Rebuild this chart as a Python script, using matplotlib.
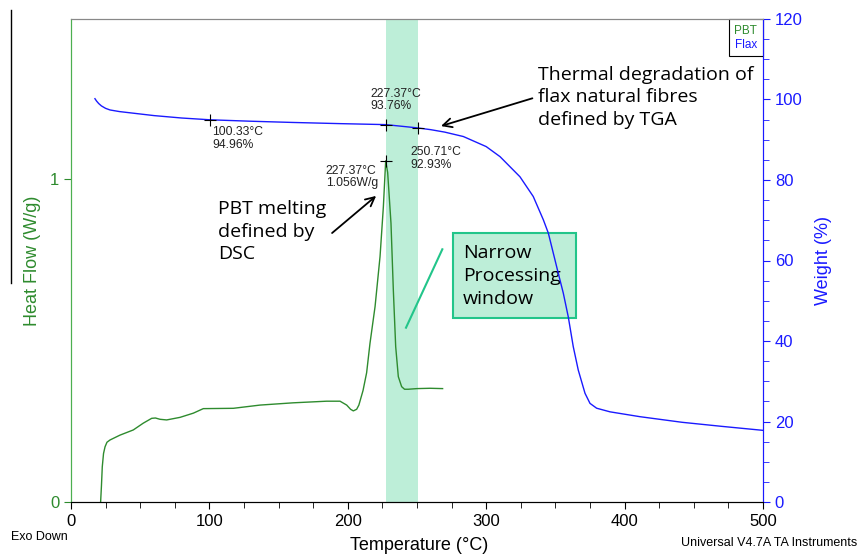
import matplotlib
matplotlib.use("Agg")
import matplotlib.pyplot as plt
from matplotlib.patches import Rectangle
from matplotlib.ticker import MultipleLocator

# DSC curve of PBT (heat flow, W/g)
temp_hf = [21.4, 22.0, 22.6, 23.5, 24.6, 26.0, 28.2, 35.4, 45.0, 52.2, 58.3, 61.0, 64.3,
           69.1, 78.8, 88.4, 95.6, 117.3, 136.6, 160.6, 184.7, 194.4, 199.2, 202.0, 204.0,
           206.4, 208.0, 211.0, 213.6, 216.0, 219.7, 223.3, 225.7, 227.37, 228.8, 231.2,
           232.9, 234.6, 236.5, 238.9, 241.0, 243.7, 250.0, 259.4, 268.5]
heat_flow = [0.0, 0.05, 0.109, 0.15, 0.171, 0.185, 0.192, 0.207, 0.223, 0.244, 0.259, 0.260,
             0.256, 0.254, 0.262, 0.275, 0.289, 0.290, 0.300, 0.307, 0.312, 0.312, 0.300,
             0.287, 0.282, 0.287, 0.300, 0.345, 0.400, 0.490, 0.605, 0.760, 0.914, 1.056,
             1.020, 0.863, 0.656, 0.481, 0.388, 0.357, 0.349, 0.349, 0.351, 0.352, 0.351]

# TGA curve of flax (weight, %)
temp_w = [17.3, 18.5, 20.0, 22.0, 25.0, 28.2, 35.0, 45.0, 60.0, 80.0, 100.33, 130.0, 160.0,
          195.0, 227.37, 250.71, 260.0, 270.0, 283.5, 300.0, 310.0, 324.4, 334.0, 341.3,
          344.9, 348.5, 352.1, 355.7, 359.3, 362.9, 366.5, 371.4, 375.0, 379.8, 389.5,
          411.0, 441.6, 470.0, 500.0]
weight = [100.2, 99.6, 99.0, 98.4, 97.8, 97.4, 97.0, 96.6, 96.0, 95.4, 94.96, 94.6, 94.3,
          94.0, 93.76, 92.93, 92.5, 91.9, 90.8, 88.3, 85.8, 80.8, 75.9, 70.1, 66.8, 61.8,
          56.8, 51.9, 46.0, 38.6, 32.8, 27.0, 24.5, 23.3, 22.4, 21.2, 19.8, 18.8, 17.8]

window = (227.37, 250.71)
mark_t = [100.33, 227.37, 250.71]
mark_w = [94.96, 93.76, 92.93]
peak_t, peak_hf = 227.37, 1.056

green = '#2e8b2e'
blue = '#1a1aff'
mint = '#bdeed8'
teal = '#22c58a'
note_font = 'Open Sans'
plt.rcParams['font.family'] = ['Liberation Sans', 'DejaVu Sans']

fig = plt.figure(figsize=(8.59, 5.56), dpi=100)
ax = fig.add_axes([71 / 859, 54 / 556, 692 / 859, 483 / 556])
ax2 = ax.twinx()

ax.axvspan(window[0], window[1], color=mint, lw=0, zorder=0)
ax.plot(temp_hf, heat_flow, color=green, lw=1.0)
ax.plot([peak_t], [peak_hf], marker='+', color='black', ms=9, mew=0.8)

ax2.plot(temp_w, weight, color=blue, lw=1.0)
ax2.plot(mark_t, mark_w, ls='none', marker='+', color='black', ms=9, mew=0.8)

ax.set_xlim(0, 500)
ax.set_ylim(0, 1.495)
ax2.set_ylim(0, 120)

ax.xaxis.set_major_locator(MultipleLocator(100))
ax.xaxis.set_minor_locator(MultipleLocator(25))
ax.set_yticks([0, 1])
ax.set_yticklabels(['0', '1'])
ax2.yaxis.set_major_locator(MultipleLocator(20))
ax2.yaxis.set_minor_locator(MultipleLocator(5))

ax.tick_params(axis='x', which='major', length=5, labelsize=12, colors='black')
ax.tick_params(axis='x', which='minor', length=4)
ax.tick_params(axis='y', length=5, labelsize=12, colors=green)
ax2.tick_params(axis='y', which='major', length=5, labelsize=12, colors=blue)
ax2.tick_params(axis='y', which='minor', length=4, colors=blue)

for a in (ax, ax2):
    a.spines['top'].set_color('#888888')
    a.spines['left'].set_color('#4caf50')
    a.spines['right'].set_color(blue)
    a.spines['bottom'].set_color('black')

ax.set_xlabel('Temperature (°C)', fontsize=13)
ax.xaxis.set_label_coords(0.503, -0.073)
ax.set_ylabel('Heat Flow (W/g)', fontsize=13, color=green)
ax.yaxis.set_label_coords(-0.044, 0.5)
ax2.set_ylabel('Weight (%)', fontsize=13, color=blue)
ax2.yaxis.set_label_coords(1.075, 0.5)

# point labels
lab = dict(fontsize=8.7, color='#222222', linespacing=1.05)
ax2.text(102.3, 93.4, '100.33°C\n94.96%', va='top', ha='left', **lab)
ax2.text(216.0, 96.9, '227.37°C\n93.76%', va='bottom', ha='left', **lab)
ax2.text(245.4, 88.4, '250.71°C\n92.93%', va='top', ha='left', **lab)
ax.text(184.2, 1.043, '227.37°C\n1.056W/g', va='top', ha='left', **lab)

# notes
note = dict(fontsize=14, family=note_font, linespacing=1.33)
ax.text(337.4, 1.35, 'Thermal degradation of\nflax natural fibres\ndefined by TGA',
        va='top', ha='left', **note)
ax2.annotate('', xy=(265.4, 93.2), xytext=(335.3, 100.5),
             arrowprops=dict(arrowstyle='->', color='black', lw=1.3, mutation_scale=16))

ax.text(106.2, 0.935, 'PBT melting\ndefined by\nDSC', va='top', ha='left', **note)
ax.annotate('', xy=(222.0, 0.953), xytext=(187.1, 0.827),
            arrowprops=dict(arrowstyle='->', color='black', lw=1.3, mutation_scale=16))

ax.add_patch(Rectangle((0.5516, 0.3803), 0.1782, 0.176, transform=ax.transAxes,
                       facecolor=mint, edgecolor=teal, lw=1.5, zorder=1))
ax.text(0.5665, 0.468, 'Narrow\nProcessing\nwindow', transform=ax.transAxes,
        va='center', ha='left', zorder=2, **note)
ax.plot([0.5366, 0.4841], [0.5232, 0.3609], transform=ax.transAxes, color=teal, lw=1.5)

# legend box
ax2.add_patch(Rectangle((0.951, 0.923), 0.049, 0.077, transform=ax2.transAxes,
                        facecolor='white', edgecolor='black', lw=0.8, clip_on=False))
ax2.text(0.991, 0.975, 'PBT', transform=ax2.transAxes, ha='right', va='center',
         fontsize=8.5, color=green)
ax2.text(0.991, 0.946, 'Flax', transform=ax2.transAxes, ha='right', va='center',
         fontsize=8.5, color=blue)

fig.text(11 / 859, 1 - 537 / 556, 'Exo Down', fontsize=9, va='center', ha='left')
fig.text(857 / 859, 1 - 543 / 556, 'Universal V4.7A TA Instruments', fontsize=9,
         va='center', ha='right')
fig.add_artist(plt.Line2D([11 / 859, 11 / 859], [1 - 10 / 556, 1 - 283 / 556],
                          color='black', lw=1.0))

fig.savefig('out.png', dpi=100)
